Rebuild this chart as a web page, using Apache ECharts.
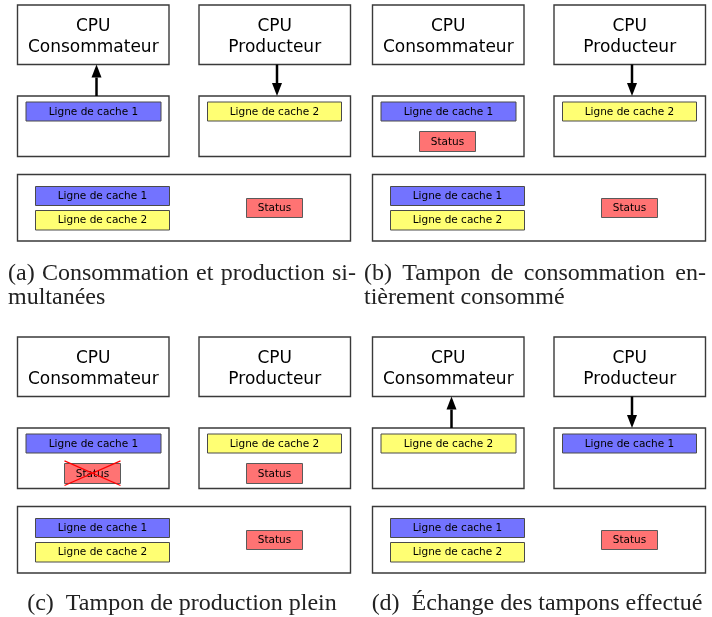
<!DOCTYPE html>
<html><head><meta charset="utf-8">
<script src="https://cdn.jsdelivr.net/npm/echarts@6/dist/echarts.min.js"></script>
<style>html,body{margin:0;padding:0;background:#fff}#c{width:712px;height:617px}</style>
</head><body><div id="c"></div>
<script>
// ---------- DATA ----------
const panelIds = ['a', 'b', 'c', 'd'];
const captionLabels = ['(a)', '(b)', '(c)', '(d)'];
const captionLines = [
  ['Consommation et production si-', 'multanées'],
  ['Tampon de consommation en-', 'tièrement consommé'],
  ['Tampon de production plein'],
  ['Échange des tampons effectué']
];
const cpuNames = ['CPU\nConsommateur', 'CPU\nProducteur'];
const consumerCacheLine = ['Ligne de cache 1', 'Ligne de cache 1', 'Ligne de cache 1', 'Ligne de cache 2'];
const producerCacheLine = ['Ligne de cache 2', 'Ligne de cache 2', 'Ligne de cache 2', 'Ligne de cache 1'];
const consumerStatus = ['none', 'present', 'invalid', 'none'];
const producerStatus = ['none', 'none', 'present', 'none'];
const consumerArrow = [true, false, false, true];
const producerArrow = [true, true, false, true];
const memoryLines = ['Ligne de cache 1', 'Ligne de cache 2'];
const statusLabel = 'Status';

// ---------- LAYOUT (drawing units = axis values) ----------
const L = {
  origin: [[0, 0], [355, 0], [0, 332], [355, 332]],
  cpu: [[17.5, 5, 169, 64.5], [199, 5, 350.5, 64.5]],
  cache: [[17.5, 96, 169, 156.5], [199, 96, 350.5, 156.5]],
  line: [[26, 102, 161, 121], [207.5, 102, 341.5, 121]],
  status: [[64.5, 131.5, 120.5, 151.5], [246.5, 131.5, 302.5, 151.5]],
  arrowX: [96.5, 277],
  mem: [17.5, 174.5, 350.5, 241],
  memLine: [[35.5, 186.5, 169.5, 205.5], [35.5, 210.5, 169.5, 230]],
  memStatus: [246.5, 198.5, 302.5, 217.5]
};
const COL = { blue: '#7373ff', yellow: '#ffff73', red: '#ff7373' };
const lineColor = t => t.endsWith('1') ? COL.blue : COL.yellow;
const CAP_FONT_SIZE = 24;
const CAP_FONT = CAP_FONT_SIZE + 'px "Liberation Serif", "Times New Roman", serif';

const ctx = document.createElement('canvas').getContext('2d');
ctx.font = CAP_FONT;
const mw = s => ctx.measureText(s).width;

const elems = [];
function rectEl(o, r, fill, stroke, lw, text, font, dy) {
  elems.push({ t: 'rect', x0: o[0] + r[0], y0: o[1] + r[1], x1: o[0] + r[2], y1: o[1] + r[3], fill, stroke, lw, text, font, dy: dy || 0.5 });
}
const boxFont = '17px "DejaVu Sans"';
const smallFont = '10.5px "DejaVu Sans"';

panelIds.forEach((id, i) => {
  const o = L.origin[i];
  for (let k = 0; k < 2; k++) {
    rectEl(o, L.cpu[k], '#fff', '#3a3a3a', 1.4, cpuNames[k], boxFont, 2);
    rectEl(o, L.cache[k], '#fff', '#3a3a3a', 1.4);
  }
  rectEl(o, L.line[0], lineColor(consumerCacheLine[i]), '#4a4a4a', 1, consumerCacheLine[i], smallFont);
  rectEl(o, L.line[1], lineColor(producerCacheLine[i]), '#4a4a4a', 1, producerCacheLine[i], smallFont);
  [consumerStatus[i], producerStatus[i]].forEach((s, k) => {
    if (s === 'none') return;
    rectEl(o, L.status[k], COL.red, '#5a5a5a', 1, statusLabel, smallFont);
    if (s === 'invalid') {
      const r = L.status[k];
      elems.push({ t: 'line', x0: o[0] + r[0], y0: o[1] + r[1] - 2.7, x1: o[0] + r[2], y1: o[1] + r[3] + 2, color: '#ff0000', lw: 1.3 });
      elems.push({ t: 'line', x0: o[0] + r[0], y0: o[1] + r[3] + 2, x1: o[0] + r[2], y1: o[1] + r[1] - 2.7, color: '#ff0000', lw: 1.3 });
    }
  });
  if (consumerArrow[i]) elems.push({ t: 'arrow', x: o[0] + L.arrowX[0], yFrom: o[1] + L.cache[0][1], yTo: o[1] + L.cpu[0][3] });
  if (producerArrow[i]) elems.push({ t: 'arrow', x: o[0] + L.arrowX[1], yFrom: o[1] + L.cpu[1][3], yTo: o[1] + L.cache[1][1] });
  rectEl(o, L.mem, '#fff', '#3a3a3a', 1.4);
  memoryLines.forEach((m, k) => rectEl(o, L.memLine[k], lineColor(m), '#4a4a4a', 1, m, smallFont));
  rectEl(o, L.memStatus, COL.red, '#5a5a5a', 1, statusLabel, smallFont);

  // captions
  const lines = captionLines[i];
  const labelGap = 12;
  if (lines.length === 2) {
    const x0 = o[0] + (i === 0 ? 8 : 9), x1 = o[0] + (i === 0 ? 356 : 351);
    const words = [captionLabels[i]].concat(lines[0].split(' '));
    const W = words.reduce((s, w) => s + mw(w), 0);
    const gap = (x1 - x0 - W) / (words.length - 1);
    let x = x0;
    words.forEach(w => { elems.push({ t: 'text', x, y: 273.5, text: w, font: CAP_FONT, align: 'left' }); x += mw(w) + gap; });
    elems.push({ t: 'text', x: x0, y: 298, text: lines[1], font: CAP_FONT, align: 'left' });
  } else {
    const lw = mw(captionLabels[i]), tw = mw(lines[0]);
    const total = lw + labelGap + tw;
    const cx = o[0] + 182;
    const x0 = cx - total / 2;
    elems.push({ t: 'text', x: x0, y: o[1] + 272, text: captionLabels[i], font: CAP_FONT, align: 'left' });
    elems.push({ t: 'text', x: x0 + lw + labelGap, y: o[1] + 272, text: lines[0], font: CAP_FONT, align: 'left' });
  }
});

function renderItem(params, api) {
  const e = elems[params.dataIndex];
  const p = (x, y) => api.coord([x, y]);
  if (e.t === 'rect') {
    const a = p(e.x0, e.y0), b = p(e.x1, e.y1);
    const children = [{
      type: 'rect',
      shape: { x: a[0], y: a[1], width: b[0] - a[0], height: b[1] - a[1] },
      style: { fill: e.fill, stroke: e.stroke, lineWidth: e.lw }
    }];
    if (e.text) {
      children.push({
        type: 'text',
        x: (a[0] + b[0]) / 2, y: (a[1] + b[1]) / 2 + e.dy,
        style: { text: e.text, font: e.font, fill: '#000', align: 'center', verticalAlign: 'middle', lineHeight: 21 }
      });
    }
    return { type: 'group', children };
  }
  if (e.t === 'line') {
    const a = p(e.x0, e.y0), b = p(e.x1, e.y1);
    return { type: 'line', shape: { x1: a[0], y1: a[1], x2: b[0], y2: b[1] }, style: { stroke: e.color, lineWidth: e.lw } };
  }
  if (e.t === 'arrow') {
    const a = p(e.x, e.yFrom), b = p(e.x, e.yTo);
    const dir = Math.sign(b[1] - a[1]);
    const headLen = 13, headW = 5;
    const base = b[1] - dir * headLen;
    return {
      type: 'group', children: [
        { type: 'line', shape: { x1: a[0], y1: a[1], x2: a[0], y2: base }, style: { stroke: '#000', lineWidth: 2.5 } },
        { type: 'polygon', shape: { points: [[b[0], b[1]], [b[0] - headW, base], [b[0] + headW, base]] }, style: { fill: '#000' } }
      ]
    };
  }
  if (e.t === 'text') {
    const a = p(e.x, e.y);
    return { type: 'text', x: a[0], y: a[1], style: { text: e.text, font: e.font, fill: '#222', align: e.align, verticalAlign: 'middle' } };
  }
}

const chart = echarts.init(document.getElementById('c'), null, { renderer: 'canvas' });
chart.setOption({
  animation: false,
  backgroundColor: '#fff',
  grid: { left: 0, right: 0, top: 0, bottom: 0 },
  xAxis: { type: 'value', min: 0, max: 712, show: false },
  yAxis: { type: 'value', min: 0, max: 617, inverse: true, show: false },
  series: [{
    type: 'custom',
    coordinateSystem: 'cartesian2d',
    clip: false,
    renderItem,
    data: elems.map((e, i) => [i, 0])
  }]
});
</script>
</body></html>
